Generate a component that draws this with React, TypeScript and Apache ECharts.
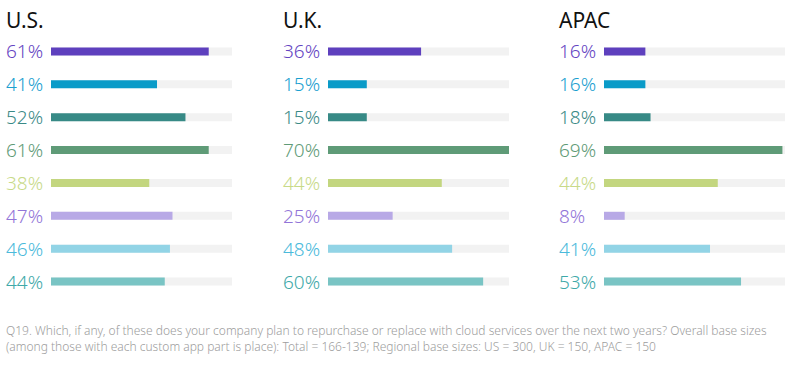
import React, { useEffect, useRef } from "react";
import * as echarts from "echarts";

const regions = ["U.S.", "U.K.", "APAC"];
const usValues = [61, 41, 52, 61, 38, 47, 46, 44];
const ukValues = [36, 15, 15, 70, 44, 25, 48, 60];
const apacValues = [16, 16, 18, 69, 44, 8, 41, 53];
const rowIds = ["r1", "r2", "r3", "r4", "r5", "r6", "r7", "r8"];
const barColors = ["#5e40be", "#0a9bc8", "#378a86", "#5f9b77", "#c3d67f", "#b8a9e6", "#92d4e6", "#79c4c4"];
const labelColors = ["#6545c2", "#1aa0d0", "#3a8a86", "#5f9b77", "#c8da88", "#9275d8", "#4bbadb", "#3ea9a9"];
const footnoteLines = [
  "Q19. Which, if any, of these does your company plan to repurchase or replace with cloud services over the next two years? Overall base sizes",
  "(among those with each custom app part is place): Total = 166-139; Regional base sizes: US = 300, UK = 150, APAC = 150",
];

const allValues = [usValues, ukValues, apacValues];
const barLefts = [51, 328, 604];
const titleLefts = [6, 283, 559];

export default function App() {
  const ref = useRef<HTMLDivElement>(null);
  useEffect(() => {
    if (!ref.current) return;
    const chart = echarts.init(ref.current, null, { renderer: "svg" });
    const rich: Record<string, any> = {};
    labelColors.forEach((c, i) => {
      rich["c" + i] = { color: c, fontSize: 19, fontFamily: "Noto Sans", fontWeight: 300 };
    });
    chart.setOption({
      animation: false,
      backgroundColor: "#ffffff",
      title: regions.map((r, i) => ({
        text: r,
        left: titleLefts[i] - 5,
        top: 4,
        textStyle: { fontSize: 21, fontWeight: 400, color: "#111", fontFamily: "Noto Sans" },
      })),
      graphic: footnoteLines.map((t, i) => ({
        type: "text",
        left: 6,
        top: 324 + i * 16,
        style: { text: t, fill: "#9d9d9d", fontSize: 12, fontFamily: "Noto Sans", fontWeight: 300 },
      })),
      grid: barLefts.map((l) => ({ left: l, width: 181, top: 35, height: 263 })),
      xAxis: barLefts.map((_, i) => ({
        type: "value",
        gridIndex: i,
        min: 0,
        max: 70,
        show: false,
      })),
      yAxis: allValues.map((vals, i) => ({
        type: "category",
        gridIndex: i,
        inverse: true,
        data: rowIds,
        axisLine: { show: false },
        axisTick: { show: false },
        axisLabel: {
          margin: 45,
          align: "left",
          rich,
          formatter: (_v: string, idx: number) => `{c${idx}|${vals[idx]}%}`,
        },
      })),
      series: allValues.map((vals, i) => ({
        type: "bar",
        xAxisIndex: i,
        yAxisIndex: i,
        barWidth: 8,
        showBackground: true,
        backgroundStyle: { color: "#f2f2f2" },
        data: vals.map((v, k) => ({ value: v, itemStyle: { color: barColors[k] } })),
      })),
    });
    return () => chart.dispose();
  }, []);
  return <div ref={ref} style={{ position: "absolute", left: 0, top: 0, width: 795, height: 366 }} />;
}
